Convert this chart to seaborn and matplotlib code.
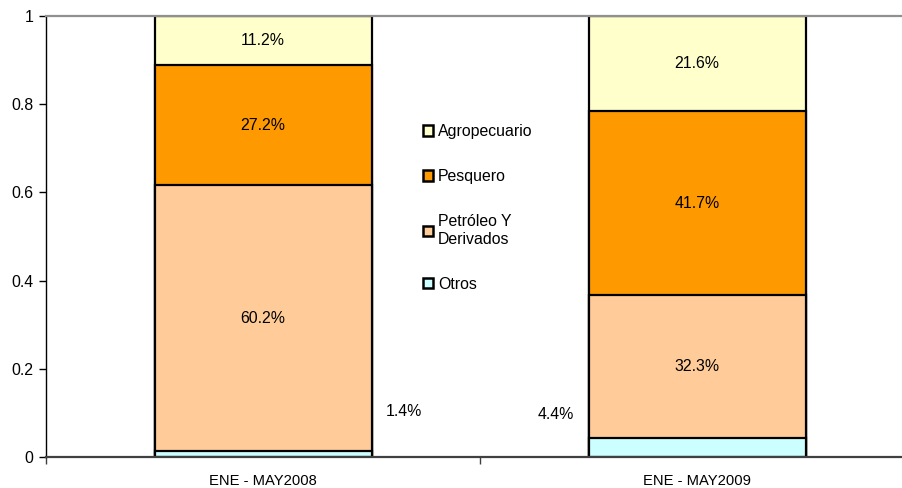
import matplotlib
matplotlib.use("Agg")
import matplotlib.pyplot as plt
import matplotlib.patches as mpatches
import seaborn as sns
import pandas as pd
import numpy as np

periods = ["ENE - MAY2008", "ENE - MAY2009"]
sectors = ["Otros", "Petróleo Y\nDerivados", "Pesquero", "Agropecuario"]
otros = [0.014, 0.044]
petroleo = [0.602, 0.323]
pesquero = [0.272, 0.417]
agro = [0.112, 0.216]
colors = ["#CCFFFF", "#FFCC99", "#FF9900", "#FFFFCC"]

sns.set_style("white")
plt.rcParams["font.family"] = ["Liberation Sans", "DejaVu Sans"]
plt.rcParams["text.color"] = "black"
plt.rcParams["xtick.color"] = "black"
plt.rcParams["ytick.color"] = "black"

fs = 10.6
fs_lab = 11.4
layers = np.array([otros, petroleo, pesquero, agro])
tops = layers.cumsum(axis=0)

fig = plt.figure(figsize=(9.03, 4.88), dpi=100)
ax = fig.add_axes([46 / 903, 1 - 457 / 488, 1 - 46 / 903, 441 / 488])

# draw cumulative totals from the top layer down so the lower ones cover them
for i in range(len(sectors) - 1, -1, -1):
    df = pd.DataFrame({"period": periods, "value": tops[i]})
    sns.barplot(data=df, x="period", y="value", color=colors[i], saturation=1,
                width=0.5, edgecolor="black", linewidth=1.6, ax=ax)

# labels
for j in range(len(periods)):
    for i in range(1, len(sectors)):
        mid = tops[i][j] - layers[i][j] / 2
        ax.text(j, mid, f"{layers[i][j] * 100:.1f}%", ha="center", va="center", fontsize=fs_lab)
ax.text(0.325, 0.103, f"{otros[0] * 100:.1f}%", ha="center", va="center", fontsize=fs_lab)
ax.text(0.675, 0.097, f"{otros[1] * 100:.1f}%", ha="center", va="center", fontsize=fs_lab)

ax.set_xlim(-0.497, 1.474)
ax.set_ylim(0, 1)
ax.set_yticks([0, 0.2, 0.4, 0.6, 0.8, 1])
ax.set_yticklabels(["0", "0.2", "0.4", "0.6", "0.8", "1"])
ax.set_xticks([0, 1])
ax.set_xticklabels(periods)
ax.set_xticks([-0.5, 0.5], minor=True)
ax.tick_params(axis="x", which="major", length=0, pad=12, labelsize=fs)
ax.tick_params(axis="x", which="minor", length=5, width=1, color="#404040", direction="out", bottom=True)
ax.tick_params(axis="y", length=5, width=1, direction="out", left=True, labelsize=fs_lab, pad=4)
ax.set_xlabel("")
ax.set_ylabel("")

ax.spines["right"].set_visible(False)
ax.spines["top"].set_color("#909090")
ax.spines["top"].set_linewidth(1.6)
ax.spines["left"].set_color("black")
ax.spines["left"].set_linewidth(1.0)
ax.spines["bottom"].set_color("#404040")
ax.spines["bottom"].set_linewidth(1.6)

handles = [mpatches.Patch(facecolor=colors[i], edgecolor="black", linewidth=1.8, label=sectors[i])
           for i in range(len(sectors) - 1, -1, -1)]
fig.legend(handles=handles, loc="upper left", bbox_to_anchor=(423 / 903, 1 - 124 / 488),
           frameon=False, fontsize=fs_lab, labelspacing=1.9, handlelength=0.65, handleheight=0.65,
           handletextpad=0.3, borderpad=0, borderaxespad=0)

fig.savefig("out.png", dpi=100)
